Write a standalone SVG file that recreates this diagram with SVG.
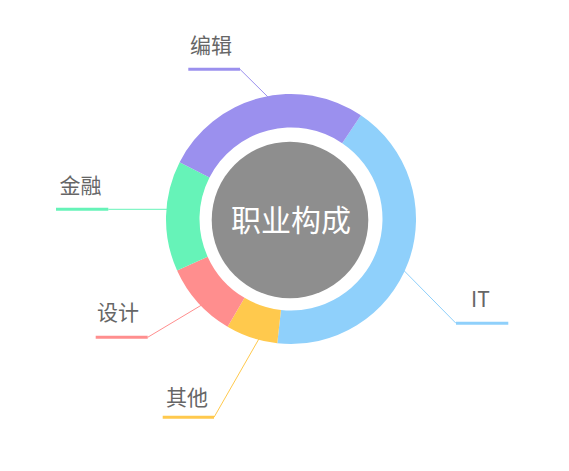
<svg xmlns="http://www.w3.org/2000/svg" width="569" height="471" viewBox="0 0 569 471">
<style>
.lbl{font-family:"Noto Sans CJK SC","Noto Sans",sans-serif;font-size:21px;fill:#666666}
.thin{fill:none;stroke-width:1}
.thick{fill:none;stroke-width:3}
</style>
<rect width="569" height="471" fill="#ffffff"/>
<g id="connectors">
<g stroke="#9b90ee"><path class="thin" d="M240,69.3 L271,100"/><path class="thick" d="M188.3,69.3 H240"/></g>
<g stroke="#66f3b8"><path class="thin" d="M108.3,209.3 H172"/><path class="thick" d="M56,209.3 H108.3"/></g>
<g stroke="#ff8e8e"><path class="thin" d="M147.7,337.3 L209,300.6"/><path class="thick" d="M95.7,337.3 H147.7"/></g>
<g stroke="#ffc94d"><path class="thin" d="M214,417.3 L262,333.5"/><path class="thick" d="M162.7,417.3 H214"/></g>
<g stroke="#8fd0fb"><path class="thin" d="M456,323.3 L400,266.6"/><path class="thick" d="M456,323.3 H508.3"/></g>
</g>
<g id="ring">
<path id="seg-it" fill="#8fd0fb" d="M360.90,115.37 A125,125 0 0 1 277.28,343.25 L280.96,309.95 A91.5,91.5 0 0 0 342.17,143.15 Z"/>
<path id="seg-other" fill="#ffc94d" d="M277.28,343.25 A125,125 0 0 1 227.56,326.70 L244.56,297.84 A91.5,91.5 0 0 0 280.96,309.95 Z"/>
<path id="seg-design" fill="#ff8e8e" d="M227.56,326.70 A125,125 0 0 1 177.07,270.44 L207.61,256.65 A91.5,91.5 0 0 0 244.56,297.84 Z"/>
<path id="seg-finance" fill="#66f3b8" d="M177.07,270.44 A125,125 0 0 1 179.62,162.25 L209.47,177.46 A91.5,91.5 0 0 0 207.61,256.65 Z"/>
<path id="seg-edit" fill="#9b90ee" d="M179.62,162.25 A125,125 0 0 1 360.90,115.37 L342.17,143.15 A91.5,91.5 0 0 0 209.47,177.46 Z"/>
</g>
<g id="center">
<circle cx="290" cy="220" r="78.3" fill="#8e8e8e"/>
<text x="291" y="231" text-anchor="middle" font-family="Noto Sans CJK SC,Noto Sans,sans-serif" font-size="30" fill="#ffffff">职业构成</text>
</g>
<g id="label-edit"><text class="lbl" x="190" y="53">编辑</text></g>
<g id="label-finance"><text class="lbl" x="59.5" y="193">金融</text></g>
<g id="label-design"><text class="lbl" x="97" y="320">设计</text></g>
<g id="label-other"><text class="lbl" x="166" y="405">其他</text></g>
<g id="label-it"><text class="lbl" x="471" y="307.3">IT</text></g>
</svg>
